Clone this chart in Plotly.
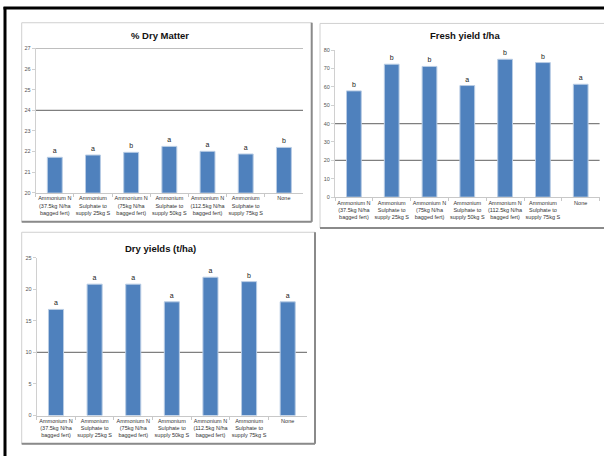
import plotly.graph_objects as go

W, H = 604, 459

# Treatments (x-axis categories, shared by all three charts)
treatments = [
    "Ammonium N<br>(37.5kg N/ha<br>bagged fert)",
    "Ammonium<br>Sulphate to<br>supply 25kg S",
    "Ammonium N<br>(75kg N/ha<br>bagged fert)",
    "Ammonium<br>Sulphate to<br>supply 50kg S",
    "Ammonium N<br>(112.5kg N/ha<br>bagged fert)",
    "Ammonium<br>Sulphate to<br>supply 75kg S",
    "None",
]

# % Dry Matter
dry_matter = [21.72, 21.83, 21.96, 22.25, 22.01, 21.88, 22.20]
dry_matter_letters = ["a", "a", "b", "a", "a", "a", "b"]

# Fresh yield t/ha
fresh_yield = [57.8, 72.3, 71.1, 60.7, 75.0, 73.2, 61.4]
fresh_yield_letters = ["b", "b", "b", "a", "b", "b", "a"]

# Dry yields (t/ha)
dry_yield = [16.8, 20.8, 20.8, 18.0, 21.9, 21.2, 18.0]
dry_yield_letters = ["a", "a", "a", "a", "a", "b", "a"]

BAR = "#4f81bd"
FONT = "Liberation Sans"


def px_x(v):
    return v / W


def px_y(v):
    return 1 - v / H


panels = [
    # (axis suffix, values, letters, title, x domain px, y domain px, y range, dtick, dark gridlines)
    ("", dry_matter, dry_matter_letters, "% Dry Matter",
     (35.7, 303.0), (46.0, 192.3), (20, 27), 1, [27, 24], (160, 33)),
    ("2", fresh_yield, fresh_yield_letters, "Fresh yield t/ha",
     (335.0, 599.6), (47.7, 196.7), (0, 80), 10, [40, 20], (465, 33)),
    ("3", dry_yield, dry_yield_letters, "Dry yields (t/ha)",
     (36.7, 307.0), (258.0, 418.0), (0, 25), 5, [10], (160, 249)),
]

fig = go.Figure()
shapes = []
annotations = []

# Chart frames (light border with darker bottom/right shadow)
boxes = [(21.7, 20.0, 311.7, 221.7), (320.0, 20.7, 606.0, 228.0), (21.7, 232.3, 315.0, 446.7)]
for x0, y0, x1, y1 in boxes:
    shapes.append(dict(type="rect", xref="paper", yref="paper", layer="below",
                       x0=px_x(x0), x1=px_x(x1), y0=px_y(y1), y1=px_y(y0),
                       line=dict(color="#d0d0d0", width=1), fillcolor="white"))
    shapes.append(dict(type="line", xref="paper", yref="paper",
                       x0=px_x(x0), x1=px_x(x1), y0=px_y(y1), y1=px_y(y1),
                       line=dict(color="#8a8a8a", width=2)))
    shapes.append(dict(type="line", xref="paper", yref="paper",
                       x0=px_x(x1), x1=px_x(x1), y0=px_y(y1), y1=px_y(y0),
                       line=dict(color="#8a8a8a", width=2)))

# Outer black frame (left and top)
shapes.append(dict(type="line", xref="paper", yref="paper",
                   x0=px_x(5), x1=px_x(5), y0=0, y1=px_y(4),
                   line=dict(color="black", width=3)))
shapes.append(dict(type="line", xref="paper", yref="paper",
                   x0=px_x(3.5), x1=1, y0=px_y(5), y1=px_y(5),
                   line=dict(color="black", width=3)))

layout_axes = {}
for suffix, vals, letters, title, xd, yd, yr, dt, grids, tpos in panels:
    xa = "x" + suffix
    ya = "y" + suffix
    fig.add_trace(go.Bar(
        x=treatments, y=vals, xaxis=xa, yaxis=ya, width=0.39,
        marker=dict(color=BAR, line=dict(color="#b8cce4", width=1)),
        text=letters, textposition="outside", cliponaxis=False,
        textfont=dict(family=FONT, size=7, color="#222222"),
        showlegend=False, hoverinfo="x+y",
    ))
    layout_axes["xaxis" + suffix] = dict(
        domain=[px_x(xd[0]), px_x(xd[1])], anchor=ya, type="category",
        showline=True, linecolor="#c8c8c8", linewidth=1,
        ticks="outside", tickson="boundaries", ticklen=3, tickcolor="#c8c8c8",
        tickfont=dict(family=FONT, size=5.5, color="#333333"),
        tickangle=0, showgrid=False, fixedrange=True,
    )
    layout_axes["yaxis" + suffix] = dict(
        domain=[px_y(yd[1]), px_y(yd[0])], anchor=xa, range=list(yr), dtick=dt,
        showline=True, linecolor="#d0d0d0", linewidth=1,
        ticks="outside", ticklen=3, tickcolor="#d0d0d0",
        tickfont=dict(family=FONT, size=5.5, color="#555555"),
        showgrid=False, zeroline=False, fixedrange=True,
    )
    for g in grids:
        shapes.append(dict(type="line", xref=xa + " domain", yref=ya,
                           x0=0, x1=1, y0=g, y1=g, layer="below",
                           line=dict(color="#7f7f7f", width=1.3)))
    annotations.append(dict(text="<b>" + title + "</b>", xref="paper", yref="paper",
                            x=px_x(tpos[0]), y=px_y(tpos[1]), xanchor="center", yanchor="middle",
                            showarrow=False, font=dict(family=FONT, size=9.5, color="#111111")))

fig.update_layout(
    width=W, height=H, margin=dict(l=0, r=0, t=0, b=0),
    paper_bgcolor="white", plot_bgcolor="rgba(0,0,0,0)",
    shapes=shapes, annotations=annotations, **layout_axes,
)

fig.write_html("out.html")
